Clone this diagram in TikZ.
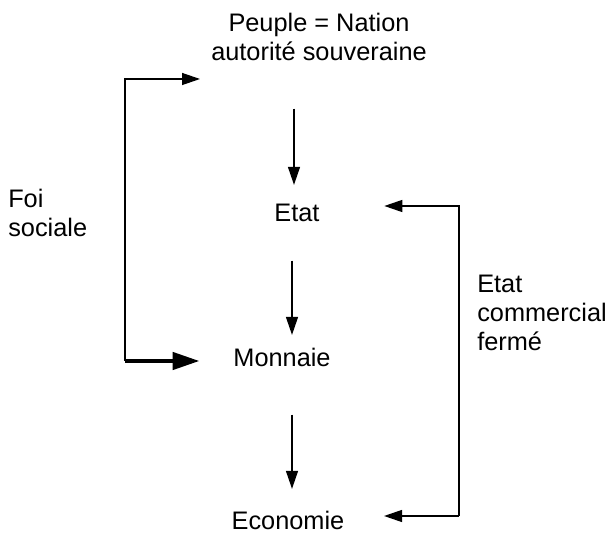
\documentclass[tikz,border=0pt]{standalone}
\usepackage{fontspec}
\setmainfont{Liberation Sans}
\usepackage{tikz}
\usetikzlibrary{arrows.meta,calc}

\begin{document}
\begin{tikzpicture}[x=0.75pt,y=-0.75pt,
  every node/.style={inner sep=0pt,font=\fontsize{19}{21.5}\selectfont},
  arr/.style={line width=1pt,-{Triangle[length=13.5pt,width=9pt]}},
  bigarr/.style={line width=2.6pt,-{Triangle[length=20pt,width=13pt]}}]
  \useasboundingbox (0,0) rectangle (611,534);
  \node[anchor=north,align=center] (peuple) at (319,12.8) {Peuple = Nation\\autorité souveraine};
  \node[anchor=north west,align=left] (foi) at (8,189) {Foi\\sociale};
  \node[anchor=north west,align=left] (ecf) at (477,275) {Etat\\commercial\\fermé};
  \node[anchor=base] (etat) at (297,222) {Etat};
  \node[anchor=base] (monnaie) at (282,367) {Monnaie};
  \node[anchor=base] (economie) at (288,530) {Economie};
  \coordinate (ltop) at (125,79);
  \coordinate (lbot) at (125,361);
  \coordinate (rtop) at (459,206);
  \coordinate (rbot) at (459,516);
  \draw[arr,shorten <=36pt,shorten >=14.6pt] ([xshift=-2.25pt]peuple.south -| etat.north) -- ([xshift=-2.25pt]etat.north);
  \draw[arr,shorten <=28.5pt,shorten >=10.1pt] ([xshift=-3.75pt]etat.south) -- ([xshift=-3.75pt]etat.south |- monnaie.north);
  \draw[arr,shorten <=35.25pt,shorten >=16.9pt] ([xshift=-3.75pt]monnaie.south -| etat.south) -- ([xshift=-3.75pt]etat.south |- economie.north);
  \draw[arr,shorten >=8.25pt] (lbot) -- (ltop) -- (ltop -| peuple.west);
  \draw[bigarr,shorten >=25.4pt] (lbot) -- (lbot -| monnaie.west);
  \draw[arr,shorten >=48.4pt] (rbot) -- (rtop) -- (rtop -| etat.east);
  \draw[arr,shorten >=29.6pt] (rbot) -- (rbot -| economie.east);
\end{tikzpicture}
\end{document}
